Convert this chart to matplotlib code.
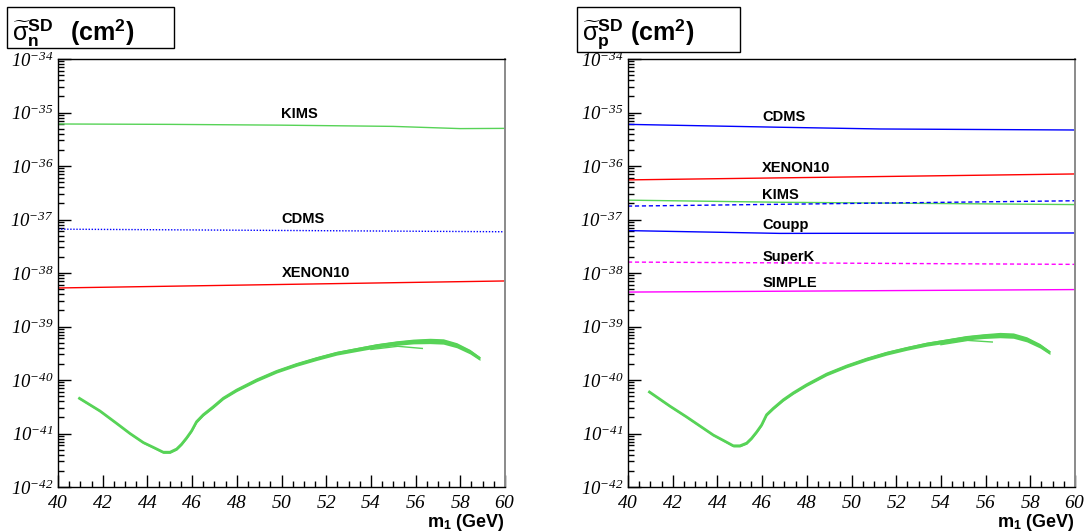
import numpy as np
import matplotlib
matplotlib.use('Agg')
import matplotlib.pyplot as plt
from matplotlib.ticker import FixedLocator, MultipleLocator, FuncFormatter, NullFormatter
from matplotlib.patches import Rectangle

plt.rcParams['mathtext.fontset'] = 'custom'
plt.rcParams['mathtext.rm'] = 'Liberation Serif:italic'
plt.rcParams['mathtext.it'] = 'Liberation Serif:italic'
plt.rcParams['mathtext.bf'] = 'Liberation Sans:bold'
plt.rcParams['mathtext.sf'] = 'Liberation Sans'
plt.rcParams['font.family'] = ['Liberation Sans', 'DejaVu Sans']

# ---------------- data ----------------
mass_range = [40, 60]

# left panel (neutron) exclusion limits
n_kims_x = [40, 45, 50, 55, 58, 60]
n_kims_y = [6.1e-36, 6.0e-36, 5.8e-36, 5.5e-36, 5.0e-36, 5.05e-36]
n_cdms_x = [40, 60]
n_cdms_y = [6.6e-38, 5.9e-38]
n_xenon_x = [40, 60]
n_xenon_y = [5.25e-39, 7.1e-39]

# right panel (proton) exclusion limits
p_cdms_x = [40, 46.8, 51.3, 60]
p_cdms_y = [6.0e-36, 5.3e-36, 4.92e-36, 4.71e-36]
p_xenon_x = [40, 60]
p_xenon_y = [5.5e-37, 7.1e-37]
p_kims_x = [40, 46.8, 60]
p_kims_y = [2.3e-37, 2.1e-37, 1.9e-37]
p_dash_x = [40, 60]
p_dash_y = [1.78e-37, 2.24e-37]
p_coupp_x = [40, 46.8, 60]
p_coupp_y = [6.2e-38, 5.5e-38, 5.6e-38]
p_superk_x = [40, 60]
p_superk_y = [1.6e-38, 1.45e-38]
p_simple_x = [40, 60]
p_simple_y = [4.4e-39, 4.9e-39]

# model prediction band (log10 of cross section)
band_x = [40.91, 41.88, 42.62, 43.22, 43.82, 44.27, 44.71, 45.01, 45.31, 45.53,
          45.76, 45.98, 46.20, 46.50, 46.95, 47.40, 47.99, 48.89, 49.78, 50.68,
          51.57, 52.47, 53.36, 54.26, 55.15, 55.90, 56.64, 57.24, 57.84, 58.43, 58.88]
band_n_logy = [-40.33, -40.58, -40.81, -41.00, -41.17, -41.26, -41.35, -41.35, -41.29,
               -41.20, -41.08, -40.95, -40.78, -40.65, -40.50, -40.34, -40.19, -40.00,
               -39.84, -39.71, -39.60, -39.50, -39.43, -39.36, -39.31, -39.28, -39.27,
               -39.28, -39.35, -39.47, -39.60]
band_p_logy = [-40.21, -40.49, -40.69, -40.86, -41.03, -41.13, -41.23, -41.23, -41.18,
               -41.09, -40.97, -40.84, -40.65, -40.53, -40.37, -40.24, -40.09, -39.89,
               -39.74, -39.61, -39.50, -39.41, -39.33, -39.27, -39.21, -39.18, -39.16,
               -39.17, -39.24, -39.36, -39.49]
band_width = [0.035, 0.035, 0.035, 0.035, 0.035, 0.035, 0.04, 0.04, 0.04, 0.04,
              0.04, 0.04, 0.045, 0.045, 0.05, 0.05, 0.055, 0.06, 0.06, 0.065,
              0.07, 0.07, 0.075, 0.08, 0.085, 0.09, 0.1, 0.1, 0.095, 0.085, 0.07]
tail_x = [54.0, 55.2, 56.3]
tail_n_logy = [-39.43, -39.37, -39.41]
tail_p_logy = [-39.34, -39.26, -39.29]

n_labels = ['KIMS', 'CDMS', 'XENON10']
n_label_y = [7.9e-36, 8.5e-38, 8.5e-39]
p_labels = ['CDMS', 'XENON10', 'KIMS', 'Coupp', 'SuperK', 'SIMPLE']
p_label_y = [6.8e-36, 7.8e-37, 2.4e-37, 6.6e-38, 1.7e-38, 5.5e-39]

# ---------------- style ----------------
GREEN = '#57d357'
BLUE = '#0000ff'
RED = '#ff0000'
MAGENTA = '#ff00ff'

W, H = 1085, 531
fig = plt.figure(figsize=(W / 100, H / 100), dpi=100)
ax_l = fig.add_axes([58 / W, (H - 487) / H, 447 / W, 428 / H])
ax_r = fig.add_axes([628 / W, (H - 487) / H, 447 / W, 428 / H])


def fmt_y(v, pos):
    e = int(round(np.log10(v)))
    return r'$10^{-%d}$' % (-e)


def fmt_x(v, pos):
    return r'$%d$' % int(round(v))


def setup(ax):
    ax.set_yscale('log')
    ax.set_xlim(*mass_range)
    ax.set_ylim(1e-42, 1e-34)
    ax.xaxis.set_major_locator(MultipleLocator(2))
    ax.xaxis.set_minor_locator(MultipleLocator(0.5))
    ax.xaxis.set_major_formatter(FuncFormatter(fmt_x))
    ax.yaxis.set_major_locator(FixedLocator([10.0 ** e for e in range(-42, -33)]))
    minors = [m * 10.0 ** e for e in range(-42, -34) for m in range(2, 10)]
    ax.yaxis.set_minor_locator(FixedLocator(minors))
    ax.yaxis.set_major_formatter(FuncFormatter(fmt_y))
    ax.yaxis.set_minor_formatter(NullFormatter())
    ax.tick_params(axis='both', which='both', direction='in', top=False, right=False,
                   width=1.0, color='black')
    ax.tick_params(axis='x', which='major', length=9, pad=6, labelsize=14)
    ax.tick_params(axis='x', which='minor', length=4.5)
    ax.tick_params(axis='y', which='major', length=9, pad=3, labelsize=13.5)
    ax.tick_params(axis='y', which='minor', length=4.5)
    for s in ['left', 'bottom', 'top']:
        ax.spines[s].set_linewidth(1.0)
    ax.spines['right'].set_linewidth(1.4)
    ax.spines['right'].set_color('#8a8a8a')


def draw_band(ax, logy, tail):
    lc = np.array(logy)
    w = np.array(band_width)
    ax.fill_between(band_x, 10 ** (lc - w / 2), 10 ** (lc + w / 2), color=GREEN, lw=0)
    ax.plot(band_x, 10 ** lc, color=GREEN, lw=2.0, solid_capstyle='butt',
            solid_joinstyle='round')
    ax.plot(tail_x, 10 ** np.array(tail), color=GREEN, lw=1.0)


setup(ax_l)
setup(ax_r)

# left panel
ax_l.plot(n_kims_x, n_kims_y, color=GREEN, lw=1.0)
ax_l.plot(n_cdms_x, n_cdms_y, color=BLUE, lw=1.0, linestyle=(0, (1, 1.2)))
ax_l.plot(n_xenon_x, n_xenon_y, color=RED, lw=1.0)
draw_band(ax_l, band_n_logy, tail_n_logy)
for lab, yy in zip(n_labels, n_label_y):
    ax_l.text(50.0, yy, lab, fontsize=10.5, fontweight='bold', ha='left', va='baseline')

# right panel
ax_r.plot(p_cdms_x, p_cdms_y, color=BLUE, lw=1.0)
ax_r.plot(p_xenon_x, p_xenon_y, color=RED, lw=1.0)
ax_r.plot(p_kims_x, p_kims_y, color=GREEN, lw=1.0)
ax_r.plot(p_dash_x, p_dash_y, color=BLUE, lw=1.0, linestyle=(0, (3, 2)))
ax_r.plot(p_coupp_x, p_coupp_y, color=BLUE, lw=1.0)
ax_r.plot(p_superk_x, p_superk_y, color=MAGENTA, lw=1.0, linestyle=(0, (3, 2)))
ax_r.plot(p_simple_x, p_simple_y, color=MAGENTA, lw=1.0)
draw_band(ax_r, band_p_logy, tail_p_logy)
for lab, yy in zip(p_labels, p_label_y):
    ax_r.text(46.0, yy, lab, fontsize=10.5, fontweight='bold', ha='left', va='baseline')

# axis titles
for x_right in (505, 1075):
    fig.text(x_right / W, (H - 527) / H, r'm$_{\mathbf{1}}$ (GeV)', fontsize=13,
             fontweight='bold', ha='right', va='baseline')

# title boxes
for (x0, y0, x1, y1) in [(7, 7, 174, 48), (577, 7, 740, 52)]:
    fig.add_artist(Rectangle((x0 / W, (H - y1) / H), (x1 - x0) / W, (y1 - y0) / H,
                             transform=fig.transFigure, facecolor='white',
                             edgecolor='black', lw=1.0, zorder=5))

fig.text(12 / W, (H - 40) / H, r'$\widetilde{\mathsf{\sigma}}^{\mathbf{SD}}_{\mathbf{n}}$',
         fontsize=18, ha='left', va='baseline', zorder=6)
fig.text(70 / W, (H - 40) / H, r'(cm$^{\mathbf{2}}$)', fontsize=18, fontweight='bold',
         ha='left', va='baseline', zorder=6)
fig.text(582 / W, (H - 40) / H, r'$\widetilde{\mathsf{\sigma}}^{\mathbf{SD}}_{\mathbf{p}}$',
         fontsize=18, ha='left', va='baseline', zorder=6)
fig.text(630 / W, (H - 40) / H, r'(cm$^{\mathbf{2}}$)', fontsize=18, fontweight='bold',
         ha='left', va='baseline', zorder=6)

fig.savefig('out.png', dpi=100)
